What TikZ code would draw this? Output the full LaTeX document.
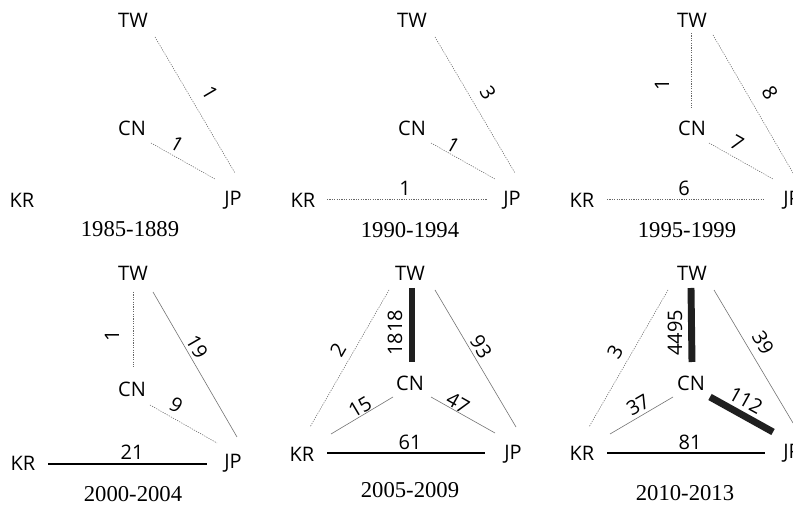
\documentclass[tikz,border=0pt]{standalone}
\usepackage{fontspec}
\setmainfont{Liberation Serif}
\newfontfamily\lblfont{Open Sans}
\begin{document}
\begin{tikzpicture}[x=.75pt,y=-.75pt,
  ctry/.style={font=\lblfont\fontsize{15}{17}\selectfont,inner sep=0pt},
  num/.style={font=\lblfont\fontsize{15}{17}\selectfont,inner sep=0pt},
  yr/.style={font=\fontsize{17}{19}\selectfont,inner sep=0pt},
  dots/.style={black!60,line width=.4pt,dash pattern=on .9pt off .9pt},
  lite/.style={black!55,line width=.45pt},
  firm/.style={black,line width=.8pt},
  heavy/.style={black!88,line width=5.2pt}]
\useasboundingbox (0,0) rectangle (793,505);
\clip (0,0) rectangle (793,505);
% 1985-1889
\node[ctry] (tw1) at (133,20) {TW}; \node[ctry] (cn1) at (132,128) {CN};
\node[ctry] (kr1) at (22,200) {KR}; \node[ctry] (jp1) at (233,200) {JP};
\node[yr] (yr1) at (130,229) {1985-1889};
\draw[dots] ([shift={(22,17)}]tw1.center) -- ([shift={(2,-27)}]jp1.center);
\draw[dots] ([shift={(19,15)}]cn1.center) -- ([shift={(-18,-21)}]jp1.center);
\node[num,rotate=-59.5] (n1a) at (210,93) {1}; \node[num,rotate=-29.4] (n1b) at (177,144) {1};
% 1990-1994
\node[ctry] (tw2) at (412,20) {TW}; \node[ctry] (cn2) at (412,128) {CN};
\node[ctry] (kr2) at (303,200) {KR}; \node[ctry] (jp2) at (512,200) {JP};
\node[yr] (yr2) at (410,230) {1990-1994};
\draw[dots] ([shift={(23,17)}]tw2.center) -- ([shift={(3,-27)}]jp2.center);
\draw[dots] ([shift={(19,15)}]cn2.center) -- ([shift={(-17,-21)}]jp2.center);
\draw[dots] ([shift={(24,-1)}]kr2.center) -- ([shift={(-25,-1)}]jp2.center);
\node[num,rotate=-59.5] (n2a) at (488,93) {3}; \node[num,rotate=-29.4] (n2b) at (453,145) {1};
\node[num] (n2c) at (405,188) {1};
% 1995-1999
\node[ctry] (tw3) at (692,20) {TW}; \node[ctry] (cn3) at (692,128) {CN};
\node[ctry] (kr3) at (582,200) {KR}; \node[ctry] (jp3) at (792,200) {JP};
\node[yr] (yr3) at (687,230) {1995-1999};
\draw[dots] ([shift={(-1,13)}]tw3.center) -- ([shift={(-1,-20)}]cn3.center);
\draw[dots] ([shift={(21,15)}]tw3.center) -- ([shift={(1,-27)}]jp3.center);
\draw[dots] ([shift={(17,15)}]cn3.center) -- ([shift={(-19,-21)}]jp3.center);
\draw[dots] ([shift={(25,-1)}]kr3.center) -- ([shift={(-27,-1)}]jp3.center);
\node[num,rotate=90] (n3a) at (662,85) {1}; \node[num,rotate=-59.5] (n3b) at (770,93) {8};
\node[num,rotate=-29.4] (n3c) at (737,143) {7}; \node[num] (n3d) at (684,188) {6};
% 2000-2004
\node[ctry] (tw4) at (133,273) {TW}; \node[ctry] (cn4) at (132,389) {CN};
\node[ctry] (kr4) at (23,463) {KR}; \node[ctry] (jp4) at (233,463) {JP};
\node[yr] (yr4) at (133,494) {2000-2004};
\draw[dots] ([shift={(0,19)}]tw4.center) -- ([shift={(1,-22)}]cn4.center);
\draw[lite] ([shift={(20,19)}]tw4.center) -- ([shift={(4,-26)}]jp4.center);
\draw[dots] ([shift={(18,16)}]cn4.center) -- ([shift={(-16,-20)}]jp4.center);
\draw[firm] ([shift={(25,1)}]kr4.center) -- ([shift={(-26,1)}]jp4.center);
\node[num,rotate=90] (n4a) at (112,336) {1}; \node[num,rotate=-59.9] (n4b) at (197,347) {19};
\node[num,rotate=-29.6] (n4c) at (176,405) {9}; \node[num] (n4d) at (132,452) {21};
% 2005-2009
\node[ctry] (tw5) at (410,273) {TW}; \node[ctry] (cn5) at (410,383) {CN};
\node[ctry] (kr5) at (302,454) {KR}; \node[ctry] (jp5) at (513,454) {JP};
\node[yr] (yr5) at (410,490) {2005-2009};
\draw[heavy] ([shift={(2,15)}]tw5.center) -- ([shift={(2,-21)}]cn5.center);
\draw[dots] ([shift={(-21,17)}]tw5.center) -- ([shift={(8,-27)}]kr5.center);
\draw[lite] ([shift={(25,17)}]tw5.center) -- ([shift={(3,-27)}]jp5.center);
\draw[lite] ([shift={(29,-20)}]kr5.center) -- ([shift={(-17,14)}]cn5.center);
\draw[lite] ([shift={(21,14)}]cn5.center) -- ([shift={(-18,-21)}]jp5.center);
\draw[firm] ([shift={(25,-1)}]kr5.center) -- ([shift={(-28,-1)}]jp5.center);
\node[num,rotate=90] (n5a) at (395,333) {1818}; \node[num,rotate=60] (n5b) at (338,350) {2};
\node[num,rotate=-59.4] (n5c) at (481,347) {93}; \node[num,rotate=30.8] (n5d) at (360,407) {15};
\node[num,rotate=-29.4] (n5e) at (458,403) {47}; \node[num] (n5f) at (410,442) {61};
% 2010-2013
\node[ctry] (tw6) at (692,273) {TW}; \node[ctry] (cn6) at (691,383) {CN};
\node[ctry] (kr6) at (582,453) {KR}; \node[ctry] (jp6) at (792,453) {JP};
\node[yr] (yr6) at (685,493) {2010-2013};
\draw[heavy] ([shift={(-1,15)}]tw6.center) -- ([shift={(1,-21)}]cn6.center);
\draw[dots] ([shift={(-24,17)}]tw6.center) -- ([shift={(7,-26)}]kr6.center);
\draw[lite] ([shift={(22,17)}]tw6.center) -- ([shift={(1,-30)}]jp6.center);
\draw[lite] ([shift={(28,-19)}]kr6.center) -- ([shift={(-18,14)}]cn6.center);
\draw[heavy] ([shift={(19,14)}]cn6.center) -- ([shift={(-19,-21)}]jp6.center);
\draw[firm] ([shift={(25,0)}]kr6.center) -- ([shift={(-27,0)}]jp6.center);
\node[num,rotate=90] (n6a) at (675,333) {4495}; \node[num,rotate=60] (n6b) at (615,352) {3};
\node[num,rotate=-59.3] (n6c) at (763,343) {39}; \node[num,rotate=30.4] (n6d) at (638,405) {37};
\node[num,rotate=-29] (n6e) at (746,400) {112}; \node[num] (n6f) at (690,442) {81};
\end{tikzpicture}
\end{document}
